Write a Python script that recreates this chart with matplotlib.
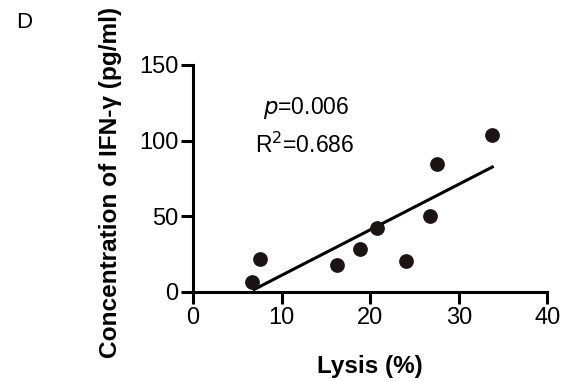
import numpy as np
import matplotlib
matplotlib.use("Agg")
import matplotlib.pyplot as plt

# values
lysis_pct = [6.6, 7.5, 16.2, 18.9, 20.8, 24.0, 26.8, 27.5, 33.8]
ifn_gamma = [6.4, 21.6, 17.8, 28.2, 42.5, 20.7, 50.4, 84.8, 103.8]
x_ticks = [0, 10, 20, 30, 40]
y_ticks = [0, 50, 100, 150]

plt.rcParams["font.family"] = ["Liberation Sans", "DejaVu Sans"]

fig = plt.figure(figsize=(5.63, 3.81), dpi=100)
ax = fig.add_axes([0.343, 0.2336, 0.629, 0.5958])

dot = "#1c1414"
ax.plot(lysis_pct, ifn_gamma, "o", color=dot, markersize=9.6, zorder=3, clip_on=False)

# linear regression line over the data range
slope, icpt = np.polyfit(lysis_pct, ifn_gamma, 1)
xs = np.array([min(lysis_pct) + 0.3, max(lysis_pct)])
ax.plot(xs, slope * xs + icpt, color="black", lw=2.2, zorder=2)

ax.set_xlim(0, 40)
ax.set_ylim(0, 150)
ax.set_xticks(x_ticks)
ax.set_yticks(y_ticks)
for side in ("top", "right"):
    ax.spines[side].set_visible(False)
for side in ("left", "bottom"):
    ax.spines[side].set_linewidth(2.2)
ax.tick_params(width=2.2, length=8.5, labelsize=17, pad=2)

ax.set_xlabel("Lysis (%)", fontsize=17.5, fontweight="bold", labelpad=19)
ax.set_ylabel("Concentration of IFN-γ (pg/ml)", fontsize=17.6, fontweight="bold", labelpad=12)
ax.yaxis.label.set_y(0.482)

ax.text(0.32, 0.81, "$\\it{p}$=0.006", transform=ax.transAxes, fontsize=16.5, ha="center", va="center")
ax.text(0.315, 0.648, "R$^2$=0.686", transform=ax.transAxes, fontsize=16.5, ha="center", va="center")

fig.text(0.043, 0.94, "D", fontsize=16, ha="center", va="center")

fig.savefig("out.png", dpi=100)
